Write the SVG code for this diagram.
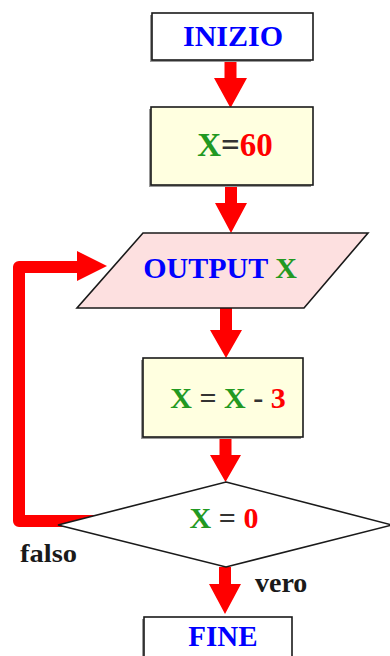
<svg xmlns="http://www.w3.org/2000/svg" width="390" height="656" viewBox="0 0 390 656">
<style>
.box{stroke:#1a1a1a;stroke-width:1.6}
.shadow{fill:#999}
.t{font-family:"Liberation Serif","Times New Roman",serif;font-weight:bold;text-anchor:middle}
.b{fill:#0000ff}
.g{fill:#229922}
.r{fill:#ff0000}
.k{fill:#333333}
.lbl{font-family:"Liberation Serif","Times New Roman",serif;font-weight:bold;fill:#1a1a1a}
.arrow{fill:#ff0000}
</style>
<rect width="390" height="656" fill="#ffffff"/>
<g id="connectors">
<path class="arrow" d="M224.5 60 H236.5 V78 H247 L230.5 108 L214 78 H224.5 Z"/>
<path class="arrow" d="M225 185 H237 V203 H247 L231 233 L215 203 H225 Z"/>
<path class="arrow" d="M220 308 H232 V330 H242 L226 358 L210 330 H220 Z"/>
<path class="arrow" d="M219.5 437 H231.5 V455 H241 L225.5 482 L210 455 H219.5 Z"/>
<path class="arrow" d="M219 567 H231 V584 H241 L225 614 L209 584 H219 Z"/>
<path d="M95 521 H19 V267 H80" fill="none" stroke="#ff0000" stroke-width="12" stroke-linejoin="round"/>
<path class="arrow" d="M77 251 L107 266 L77 281 Z"/>
</g>
<g id="inizio">
<rect class="shadow" x="150" y="15" width="161" height="47"/>
<rect class="box" x="152" y="13" width="161" height="47" fill="#ffffff"/>
<text class="t b" x="233" y="46" font-size="30">INIZIO</text>
</g>
<g id="assign">
<rect class="shadow" x="149" y="109" width="162" height="78"/>
<rect class="box" x="151" y="107" width="162" height="78" fill="#ffffe0"/>
<text class="t" x="235" y="156" font-size="33"><tspan class="g">X</tspan><tspan class="k">=</tspan><tspan class="r">60</tspan></text>
</g>
<g id="output">
<polygon class="box" points="143,233 368,233 304,308 77,308" fill="#fde0e0"/>
<text class="t" x="220" y="278" font-size="30"><tspan class="b">OUTPUT </tspan><tspan class="g">X</tspan></text>
</g>
<g id="decrement">
<rect class="shadow" x="141" y="360" width="160" height="79"/>
<rect class="box" x="143" y="358" width="160" height="79" fill="#ffffe0"/>
<text class="t" x="228" y="408" font-size="30"><tspan class="g">X</tspan><tspan class="k"> = </tspan><tspan class="g">X</tspan><tspan class="k"> - </tspan><tspan class="r">3</tspan></text>
</g>
<g id="decision">
<polygon class="box" points="226,482 392,525 226,567 58,525" fill="#ffffff"/>
<text class="t" x="224" y="528" font-size="30"><tspan class="g">X</tspan><tspan class="k"> = </tspan><tspan class="r">0</tspan></text>
</g>
<g id="labels">
<text class="lbl" x="20" y="562" font-size="26" textLength="57" lengthAdjust="spacingAndGlyphs">falso</text>
<text class="lbl" x="255" y="592" font-size="28">vero</text>
</g>
<g id="fine">
<rect class="shadow" x="142" y="619" width="150" height="50"/>
<rect class="box" x="144" y="617" width="148" height="50" fill="#ffffff"/>
<text class="t b" x="223" y="646" font-size="29">FINE</text>
</g>
</svg>
